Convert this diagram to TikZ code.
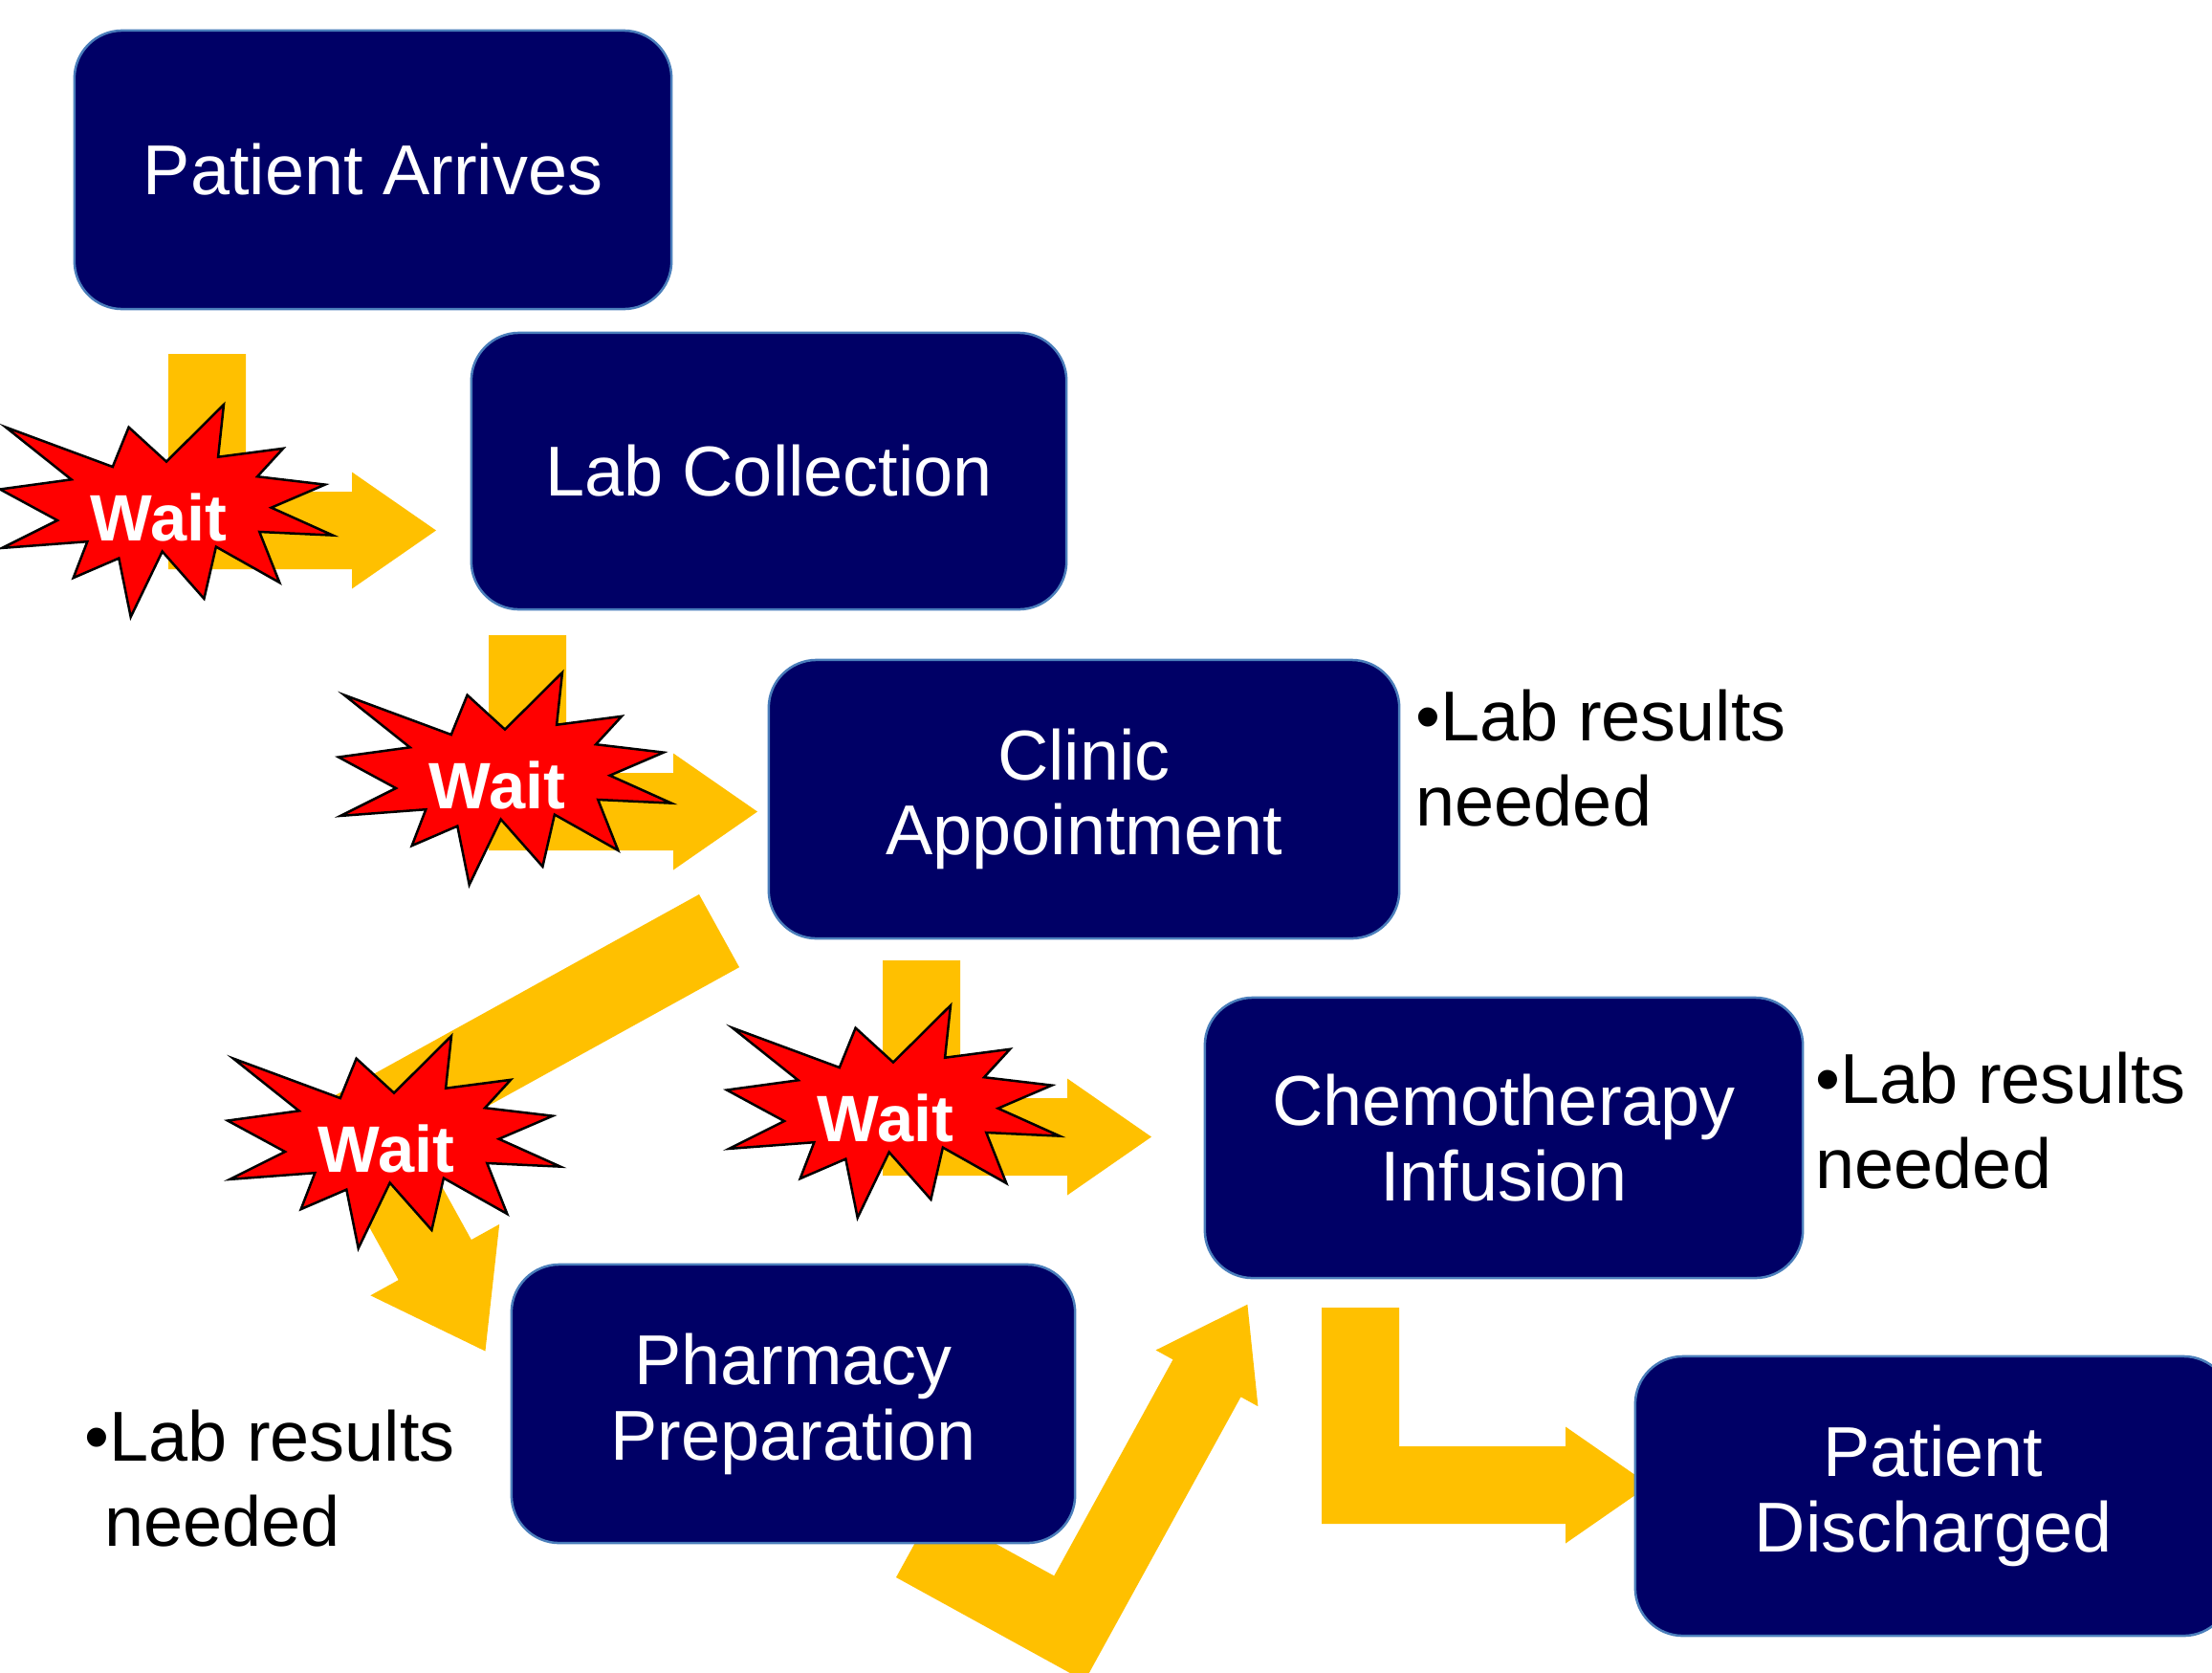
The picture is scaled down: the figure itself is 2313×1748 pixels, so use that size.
\documentclass[tikz,border=0pt]{standalone}
\usepackage{fontspec}
\setmainfont{Liberation Sans}
\definecolor{boxnavy}{RGB}{0,0,102}
\definecolor{boxedge}{RGB}{74,126,187}
\definecolor{arrowgold}{RGB}{255,192,0}
\tikzset{
    stepbox/.style={draw=boxedge, line width=.25mm, fill=boxnavy,
        rounded corners=5mm, text=white, align=center, inner sep=0pt,
        font=\fontsize{21}{22.4}\selectfont},
    notetext/.style={anchor=base west, align=left, inner sep=0pt,
        font=\fontsize{21}{25.2}\selectfont},
    pics/bentarrow/.style n args={5}{code={
        \fill[arrowgold] (0, 0) -- (0, #1) -- (#2, #1)
            -- (#2, #1 - .5*#3 + #4) -- (#2 + #5, #1 - .5*#3)
            -- (#2, #1 - .5*#3 - #4) -- (#2, #1 - #3)
            -- (#3, #1 - #3) -- (#3, 0) -- cycle;
    }},
    waitstar/.pic={
        \filldraw[fill=red, line width=.25mm] (174, 59.6) -- (234, 0)
            -- (228.1, 54.7) -- (296.1, 45.8) -- (269.1, 75.2)
            -- (339.9, 83.6) -- (283.7, 107.7) -- (348, 136.6)
            -- (271.3, 133) -- (292.3, 186) -- (225.9, 148.6)
            -- (213.4, 202.9) -- (169.7, 153.5) -- (136.7, 222)
            -- (124.3, 160.6) -- (76.7, 181.1) -- (91.3, 143.2)
            -- (2.2, 149.9) -- (60, 121) -- (0, 88.5) -- (74.6, 78.3)
            -- (6, 23.6) -- (117.8, 65) -- (134.6, 23.6) -- cycle;
        \node[text=white, font=\fontsize{19.5}{19.5}\selectfont\bfseries]
            (-label) at (166, 118) {Wait};
    },
}

\begin{document}
\begin{tikzpicture}[x=.01cm, y=-.01cm]
        \useasboundingbox (0, 0) rectangle (2313, 1748);
        \coordinate (arr1) at (176, 370);
        \coordinate (arr2) at (511, 664);
        \coordinate (arr3) at (923, 1004);
        \coordinate (arr4) at (1382, 1367);
        \coordinate (arr5) at (731, 935);
        \coordinate (arr6) at (937, 1649);
        \pic at (arr1) {bentarrow={225}{192}{81}{61}{88}};
        \pic at (arr2) {bentarrow={225}{193}{81}{61}{88}};
        \pic at (arr3) {bentarrow={225}{193}{81}{61}{88}};
        \pic at (arr4) {bentarrow={226}{255}{81}{61}{88}};
        \pic[rotate=-61.1] at (arr5) {bentarrow={470}{201}{87}{77}{109}};
        \pic[rotate=61.2] at (arr6) {bentarrow={225}{339}{81}{61}{88}};
        \node[stepbox, minimum width=6.24cm, minimum height=2.91cm]
            (arrives) at (390, 177.5) {Patient Arrives};
        \node[stepbox, minimum width=6.22cm, minimum height=2.89cm]
            (labcoll) at (804, 492.5) {Lab Collection};
        \node[stepbox, minimum width=6.59cm, minimum height=2.91cm]
            (clinic) at (1133.5, 835.5) {Clinic\\Appointment};
        \node[stepbox, minimum width=6.25cm, minimum height=2.93cm]
            (chemo) at (1572.5, 1189.5) {Chemotherapy\\Infusion};
        \node[stepbox, minimum width=5.89cm, minimum height=2.91cm]
            (pharmacy) at (829.5, 1467.5) {Pharmacy\\Preparation};
        \node[stepbox, minimum width=6.23cm, minimum height=2.92cm]
            (discharged) at (2021.5, 1564) {Patient\\Discharged};
        \pic (star1) at (0, 423) {waitstar};
        \pic (star2) at (354, 703) {waitstar};
        \pic (star3) at (238, 1083) {waitstar};
        \pic (star4) at (760, 1051) {waitstar};
        \node[notetext] (clinicnote) at (1480, 863) {•Lab results\\needed};
        \node[notetext] (chemonote) at (1898, 1242) {•Lab results\\needed};
        \node[notetext] (pharmnote) at (88, 1616) {•Lab results\\\ needed};
\end{tikzpicture}
\end{document}
